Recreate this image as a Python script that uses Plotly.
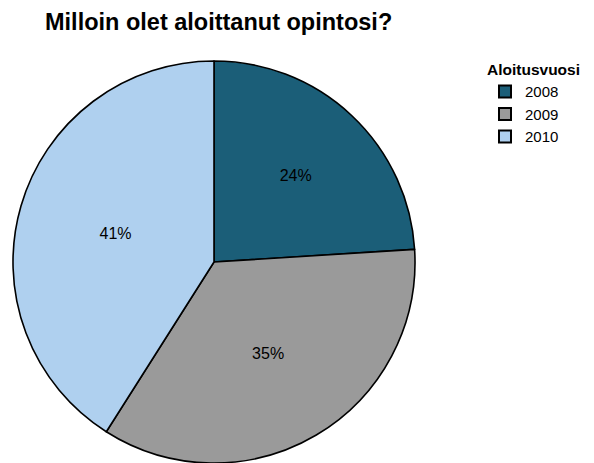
import plotly.graph_objects as go

labels = ["2008", "2009", "2010"]
values = [24, 35, 41]
colors = ["#1b5e78", "#9a9a9a", "#afd0ef"]

W, H = 594, 463
FONT = "Liberation Sans, Arial"
fig = go.Figure(go.Pie(
    labels=labels, values=values, sort=False, direction="clockwise", rotation=0,
    marker=dict(colors=colors, line=dict(color="black", width=1.6)),
    textinfo="percent", texttemplate="%{percent:.0%}", textposition="inside",
    insidetextorientation="horizontal",
    textfont=dict(family=FONT, size=16, color="black"),
    domain=dict(x=[3/W, 409/W], y=[8/H, 410/H]),
    hoverinfo="label+percent",
))
fig.update_layout(
    width=W, height=H, margin=dict(l=0, r=0, t=0, b=0),
    paper_bgcolor="white", plot_bgcolor="white",
    title=dict(text="<b>Milloin olet aloittanut opintosi?</b>", x=37/W, xanchor="left",
               yref="container", y=1-14/H, yanchor="middle",
               font=dict(family=FONT, size=23.5, color="black")),
    legend=dict(title=dict(text="<b>Aloitusvuosi</b>", side="top",
                           font=dict(family=FONT, size=15.5)),
                x=477/W, xanchor="left", y=1-47/H, yanchor="top",
                font=dict(family=FONT, size=15, color="black"),
                traceorder="normal", itemsizing="constant"),
)
fig.write_html("out.html")
